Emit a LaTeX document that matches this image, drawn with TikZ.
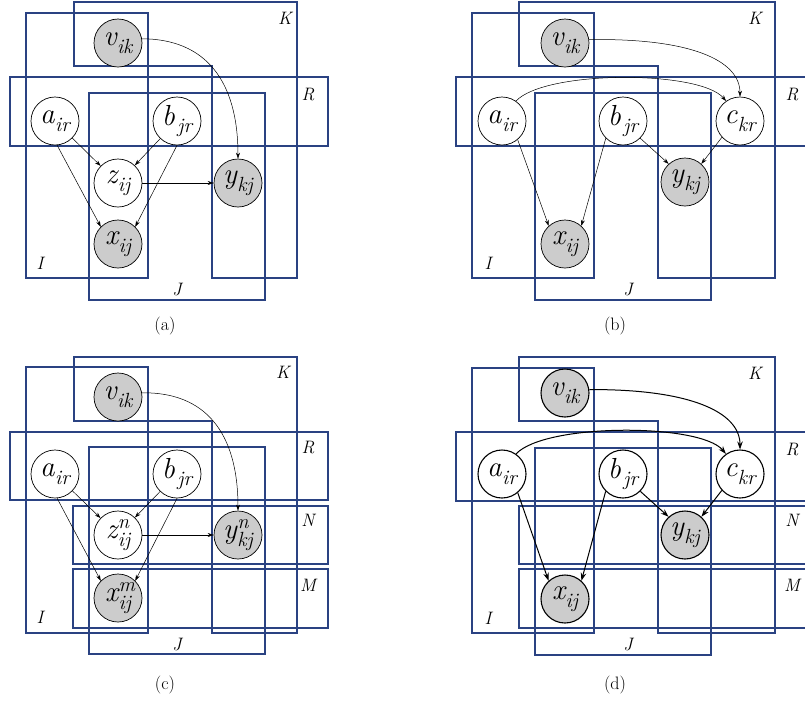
\documentclass[tikz,border=0pt]{standalone}
\usepackage{fontspec}
\usetikzlibrary{arrows.meta}
\definecolor{plate}{RGB}{42,66,130}
\newcommand{\nv}[2]{{\itshape\fontsize{29}{29}\selectfont #1\kern0.5pt\raisebox{-7.5pt}{\fontsize{20.5}{20.5}\selectfont #2}}}
\newcommand{\nvs}[3]{{\itshape\fontsize{29}{29}\selectfont #1\kern0.5pt\rlap{\raisebox{10.5pt}{\fontsize{20.5}{20.5}\selectfont #3}}\raisebox{-7.5pt}{\fontsize{20.5}{20.5}\selectfont #2}}}
\tikzset{
  lat/.style={circle, draw, fill=white, minimum size=48pt, inner sep=0pt, line width=0.7pt},
  obs/.style={lat, fill=gray!40},
  boldnode/.style={line width=1.1pt},
  platebox/.style={draw=plate, line width=1.3pt},
  plab/.style={font=\itshape\fontsize{18}{18}\selectfont},
  edge/.style={-{Stealth[length=6pt,width=4pt]}, line width=0.5pt},
  boldedge/.style={-{Stealth[length=8pt,width=5.5pt]}, line width=1pt},
  capt/.style={font=\fontsize{18}{18}\selectfont}
}
\begin{document}
\begin{tikzpicture}[x=1pt,y=-1pt]
\useasboundingbox (0,0) rectangle (805,702);
% ---------- (a) ----------
\draw[platebox] (74,2) -- (297,2) -- (297,278) -- (212,278) -- (212,66) -- (74,66) -- cycle;
\draw[platebox] (26,13) rectangle (148,278);
\draw[platebox] (10,77) rectangle (328,146);
\draw[platebox] (89,93) rectangle (265,300);
\node[plab] (Ka) at (285,18) {K};
\node[plab] (Ra) at (308,95) {R};
\node[plab] (Ia) at (40,263) {I};
\node[plab] (Ja) at (177,290) {J};
\node[obs] (va) at (118,43) {\nv{v}{ik}};
\node[lat] (aa) at (55,121) {\nv{a}{ir}};
\node[lat] (ba) at (177,121) {\nv{b}{\kern2pt jr}};
\node[lat] (za) at (118,183) {\nv{z}{ij}};
\node[obs] (ya) at (238,183) {\nv{y}{kj}};
\node[obs] (xa) at (118,244) {\nv{x}{ij}};
\draw[edge] (va.10) .. controls (205,39) and (238,80) .. (ya.north);
\draw[edge] (aa) -- (za);
\draw[edge] (aa.275) -- (xa.135);
\draw[edge] (ba) -- (za);
\draw[edge] (ba.270) -- (xa.45);
\draw[edge] (za) -- (ya);
\node[capt] (capa) at (165,326) {(a)};
% ---------- (b) ----------
\draw[platebox] (519,2) -- (775,2) -- (775,278) -- (658,278) -- (658,66) -- (519,66) -- cycle;
\draw[platebox] (472,13) rectangle (594,278);
\draw[platebox] (806,77) -- (456,77) -- (456,146) -- (806,146);
\draw[platebox] (535,93) rectangle (711,300);
\node[plab] (Kb) at (755,18) {K};
\node[plab] (Rb) at (792,95) {R};
\node[plab] (Ib) at (488,263) {I};
\node[plab] (Jb) at (628,290) {J};
\node[obs] (vb) at (565,43) {\nv{v}{ik}};
\node[lat] (ab) at (502,121) {\nv{a}{ir}};
\node[lat] (bb) at (623,121) {\nv{b}{\kern2pt jr}};
\node[lat] (cb) at (740,121) {\nv{c}{kr}};
\node[obs] (yb) at (685,182) {\nv{y}{kj}};
\node[obs] (xb) at (565,244) {\nv{x}{ij}};
\draw[edge] (vb.8) .. controls (690,38) and (740,60) .. (cb.north);
\draw[edge] (ab.55) .. controls (545,70) and (700,70) .. (cb.125);
\draw[edge] (ab.310) -- (xb.132);
\draw[edge] (bb.225) -- (xb.48);
\draw[edge] (bb.315) -- (yb.132);
\draw[edge] (cb.222) -- (yb.48);
\node[capt] (capb) at (615,326) {(b)};
% ---------- (c) ----------
\draw[platebox] (74,357) -- (297,357) -- (297,633) -- (212,633) -- (212,421) -- (74,421) -- cycle;
\draw[platebox] (26,367) rectangle (148,633);
\draw[platebox] (10,432) rectangle (328,500);
\draw[platebox] (73,506) rectangle (328,564);
\draw[platebox] (73,569) rectangle (328,628);
\draw[platebox] (89,447) rectangle (265,654);
\node[plab] (Kc) at (283,372) {K};
\node[plab] (Rc) at (308,448) {R};
\node[plab] (Nc) at (308,520) {N};
\node[plab] (Mc) at (308,585) {M};
\node[plab] (Ic) at (40,617) {I};
\node[plab] (Jc) at (177,645) {J};
\node[obs] (vc) at (118,397) {\nv{v}{ik}};
\node[lat] (ac) at (55,474) {\nv{a}{ir}};
\node[lat] (bc) at (177,474) {\nv{b}{\kern2pt jr}};
\node[lat] (zc) at (118,535) {\nvs{z}{ij}{n}};
\node[obs] (yc) at (238,535) {\nvs{y}{kj}{n}};
\node[obs] (xc) at (118,598) {\nvs{x}{ij}{m}};
\draw[edge] (vc.10) .. controls (205,392) and (238,432) .. (yc.north);
\draw[edge] (ac) -- (zc);
\draw[edge] (ac.275) -- (xc.135);
\draw[edge] (bc) -- (zc);
\draw[edge] (bc.270) -- (xc.45);
\draw[edge] (zc) -- (yc);
\node[capt] (capc) at (165,685) {(c)};
% ---------- (d) ----------
\draw[platebox] (519,357) -- (775,357) -- (775,633) -- (658,633) -- (658,421) -- (519,421) -- cycle;
\draw[platebox] (472,368) rectangle (594,633);
\draw[platebox] (806,432) -- (456,432) -- (456,501) -- (806,501);
\draw[platebox] (806,506) -- (519,506) -- (519,564) -- (806,564);
\draw[platebox] (806,569) -- (519,569) -- (519,628) -- (806,628);
\draw[platebox] (535,448) rectangle (711,655);
\node[plab] (Kd) at (755,373) {K};
\node[plab] (Rd) at (792,450) {R};
\node[plab] (Nd) at (792,520) {N};
\node[plab] (Md) at (792,585) {M};
\node[plab] (Id) at (488,618) {I};
\node[plab] (Jd) at (628,645) {J};
\node[obs,boldnode] (vd) at (565,393) {\nv{v}{ik}};
\node[lat,boldnode] (ad) at (502,474) {\nv{a}{ir}};
\node[lat,boldnode] (bd) at (623,474) {\nv{b}{\kern2pt jr}};
\node[lat,boldnode] (cd) at (740,474) {\nv{c}{kr}};
\node[obs,boldnode] (yd) at (685,535) {\nv{y}{kj}};
\node[obs,boldnode] (xd) at (565,599) {\nv{x}{ij}};
\draw[boldedge] (vd.8) .. controls (690,389) and (740,412) .. (cd.north);
\draw[boldedge] (ad.55) .. controls (545,423) and (700,423) .. (cd.125);
\draw[boldedge] (ad.310) -- (xd.132);
\draw[boldedge] (bd.225) -- (xd.48);
\draw[boldedge] (bd.315) -- (yd.132);
\draw[boldedge] (cd.222) -- (yd.48);
\node[capt] (capd) at (615,685) {(d)};
\end{tikzpicture}
\end{document}
